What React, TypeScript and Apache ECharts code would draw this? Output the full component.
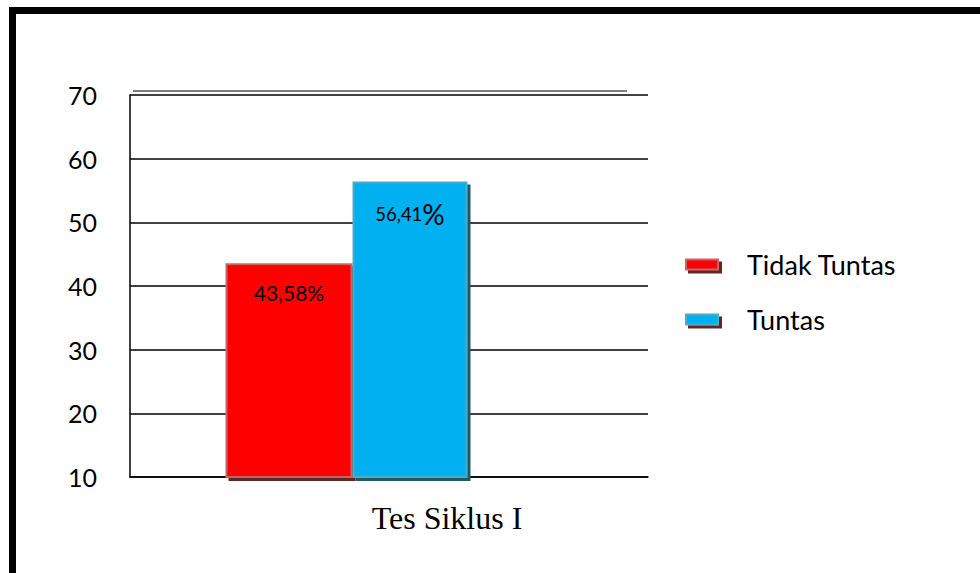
import React, { useEffect, useRef } from "react";
import * as echarts from "echarts";

// Chart data
const categories = ["Tes Siklus I"];
const seriesNames = ["Tidak Tuntas", "Tuntas"];
const tidakTuntas = [43.58];
const tuntas = [56.41];
const yMin = 10;
const yMax = 70;
const yStep = 10;

const FONT = "Lato, 'Noto Sans', sans-serif";

const pct = (v: number) => v.toFixed(2).replace(".", ",");

export default function App() {
  const ref = useRef<HTMLDivElement>(null);

  useEffect(() => {
    if (!ref.current) return;
    const chart = echarts.init(ref.current, undefined, { renderer: "svg" });
    chart.setOption({
      animation: false,
      backgroundColor: "#ffffff",
      grid: [
        { left: 130, right: 332, top: 95, bottom: 96 },
        { left: 130, width: 433, top: 95, bottom: 96 },
      ],
      xAxis: [
        {
          gridIndex: 0,
          type: "category",
          data: [""],
          axisLine: { show: true, lineStyle: { color: "#000", width: 1.5 } },
          axisTick: { show: false },
          axisLabel: { show: false },
        },
        {
          gridIndex: 1,
          type: "category",
          data: categories,
          axisLine: { show: false },
          axisTick: { show: false },
          axisLabel: {
            margin: 25,
            color: "#000",
            fontSize: 32,
            fontFamily: "'Liberation Serif', 'DejaVu Serif', serif",
            padding: [0, 0, 0, 201],
          },
        },
      ],
      yAxis: [
        {
          gridIndex: 0,
          type: "value",
          min: yMin,
          max: yMax,
          interval: yStep,
          axisLine: { show: true, lineStyle: { color: "#000", width: 1.5 } },
          axisTick: { show: false },
          splitLine: { show: true, lineStyle: { color: "#000", width: 1.5 } },
          axisLabel: {
            margin: 33,
            color: "#000",
            fontSize: 25,
            fontFamily: FONT,
          },
        },
        {
          gridIndex: 1,
          type: "value",
          min: yMin,
          max: yMax,
          interval: yStep,
          show: false,
          splitLine: { show: false },
        },
      ],
      legend: {
        orient: "vertical",
        left: 685,
        top: 251,
        padding: 0,
        icon: "rect",
        itemWidth: 32,
        itemHeight: 10,
        itemGap: 28,
        data: seriesNames,
        itemStyle: {
          shadowColor: "#632523",
          shadowBlur: 0,
          shadowOffsetX: 3,
          shadowOffsetY: 3,
        },
        textStyle: {
          fontSize: 27,
          color: "#000",
          fontFamily: FONT,
          padding: [0, 0, 0, 24],
        },
      },
      series: [
        {
          name: seriesNames[0],
          type: "bar",
          xAxisIndex: 1,
          yAxisIndex: 1,
          data: tidakTuntas,
          barWidth: 127,
          barGap: "0%",
          itemStyle: {
            color: "#ff0000",
            borderColor: "#c86464",
            borderWidth: 2,
            shadowColor: "#632523",
            shadowBlur: 0,
            shadowOffsetX: 3,
            shadowOffsetY: 3,
          },
          label: {
            show: true,
            position: "insideTop",
            distance: 19,
            color: "#000",
            fontSize: 21,
            fontFamily: FONT,
            formatter: (p: any) => pct(p.value) + "%",
          },
        },
        {
          name: seriesNames[1],
          type: "bar",
          xAxisIndex: 1,
          yAxisIndex: 1,
          data: tuntas,
          barWidth: 115,
          barGap: "0%",
          itemStyle: {
            color: "#00b0f0",
            borderColor: "#4bacc6",
            borderWidth: 2,
            shadowColor: "#215868",
            shadowBlur: 0,
            shadowOffsetX: 3,
            shadowOffsetY: 3,
          },
          label: {
            show: true,
            position: "insideTop",
            distance: 18,
            color: "#000",
            fontFamily: FONT,
            formatter: (p: any) => "{n|" + pct(p.value) + "}{p|%}",
            rich: {
              n: { fontSize: 18.5, fontFamily: FONT, color: "#000" },
              p: { fontSize: 28, fontFamily: FONT, color: "#000" },
            },
          },
        },
      ],
      graphic: [
        {
          type: "line",
          shape: { x1: 133, y1: 91, x2: 627, y2: 91 },
          style: { stroke: "#555", lineWidth: 1.5 },
        },
      ],
    });
    return () => chart.dispose();
  }, []);

  return (
    <div
      style={{
        position: "fixed",
        left: 0,
        top: 0,
        width: 980,
        height: 573,
        background: "#fff",
        overflow: "hidden",
      }}
    >
      <div ref={ref} style={{ position: "absolute", left: 0, top: 0, width: 980, height: 573 }} />
      <div
        style={{
          position: "absolute",
          left: 9,
          top: 7,
          width: 980,
          height: 580,
          borderTop: "7px solid #000",
          borderLeft: "7px solid #000",
          pointerEvents: "none",
        }}
      />
    </div>
  );
}
